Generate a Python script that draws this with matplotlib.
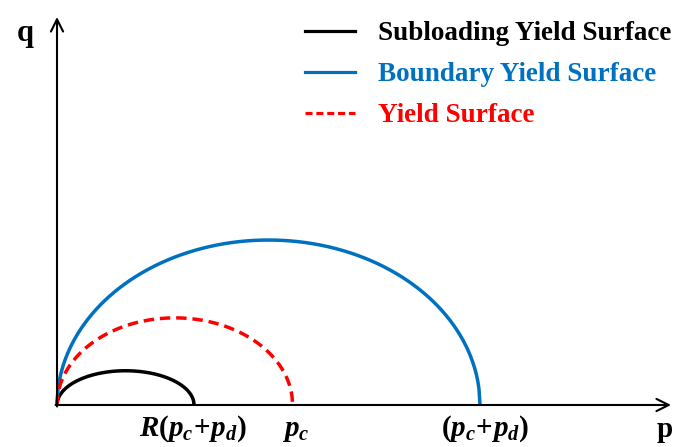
import numpy as np
import matplotlib
matplotlib.use("Agg")
import matplotlib.pyplot as plt
from matplotlib.lines import Line2D

plt.rcParams['font.family'] = ['Liberation Serif', 'DejaVu Serif']
plt.rcParams['mathtext.fontset'] = 'custom'
plt.rcParams['mathtext.rm'] = 'Liberation Serif:bold'
plt.rcParams['mathtext.it'] = 'Liberation Serif:italic:bold'
plt.rcParams['mathtext.bf'] = 'Liberation Serif:bold'

# surfaces: end point on p axis and peak q (normalised by p_c + p_d)
names = ['Subloading Yield Surface', 'Boundary Yield Surface', 'Yield Surface']
p_end = [0.324, 1.0, 0.557]
q_peak = [0.081, 0.390, 0.206]
colors = ['black', '#0070C0', '#FF0000']
styles = ['-', '-', '--']

tick_pos = [0.3215, 0.565, 1.012]
tick_labels = [r'$R(p_c\!+\!p_d)$', r'$p_c$', r'$(p_c\!+\!p_d)$']

S = 423  # pixels per unit p

fig = plt.figure(figsize=(6.73, 4.47), dpi=100)
ax = fig.add_axes([0, 0, 1, 1])
ax.set_xlim(-57 / S, 616 / S)
ax.set_ylim(-42 / S, 405 / S)
ax.axis('off')

# elliptical (Cam-Clay type) surfaces
for name, pe, qp, c, ls in zip(names, p_end, q_peak, colors, styles):
    p = np.linspace(0, pe, 400)
    a = pe / 2
    q = qp * np.sqrt(np.clip(1 - ((p - a) / a) ** 2, 0, None))
    if ls == '--':
        ax.plot(p, q, color=c, lw=2.5, ls=(0, (3.0, 1.7)), label=name)
    else:
        ax.plot(p, q, color=c, lw=2.5, label=name, solid_capstyle='butt')

# axes with arrows
arrow = dict(arrowstyle='->', lw=1.5, color='black', mutation_scale=22,
             shrinkA=0, shrinkB=0)
ax.annotate('', xy=(614 / S, 0), xytext=(-1.5 / S, 0), arrowprops=arrow)
ax.annotate('', xy=(0, 388 / S), xytext=(0, -1.5 / S), arrowprops=arrow)

ax.text(-32 / S, 372 / S, 'q', fontsize=22, fontweight='bold',
        ha='center', va='center')
ax.text(600 / S, -32 / S, 'p', fontsize=21, fontweight='bold',
        ha='left', va='baseline')

for x, lab in zip(tick_pos, tick_labels):
    ax.text(x, -31 / S, lab, fontsize=21, ha='center', va='baseline')

handles = [Line2D([], [], color='black', lw=2.3),
           Line2D([], [], color='#0070C0', lw=2.3),
           Line2D([], [], color='#FF0000', lw=2.3, ls=(0, (2.2, 1.2)))]
leg = ax.legend(handles, names, loc='upper left',
                bbox_to_anchor=(305 / 673, 1 - 21 / 447),
                frameon=False, handlelength=1.85, handletextpad=0.85,
                labelspacing=0.6, borderpad=0, borderaxespad=0,
                prop={'weight': 'bold', 'size': 19.5})
for t, c in zip(leg.get_texts(), colors):
    t.set_color(c)

fig.savefig('out.png', dpi=100)
